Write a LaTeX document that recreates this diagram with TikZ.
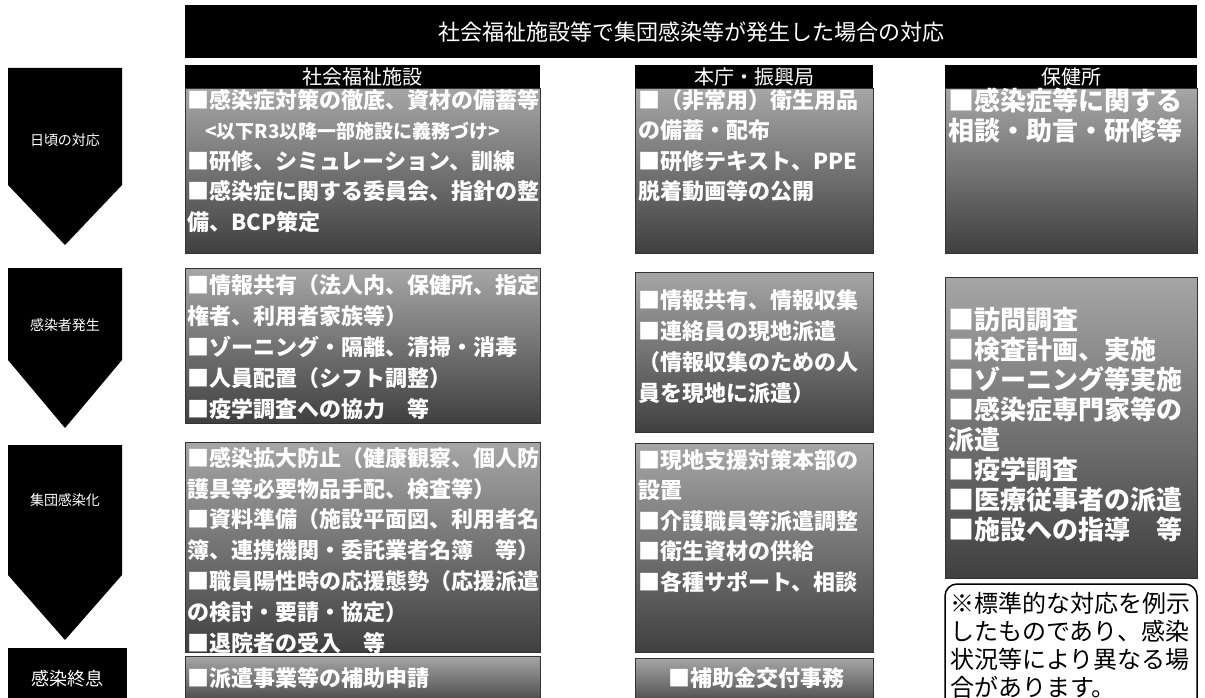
\documentclass[tikz,border=0pt]{standalone}
\usepackage{fontspec}
\setmainfont{Noto Sans CJK JP}
\tikzstyle{bar}=[fill=black,text=white,inner sep=0pt,anchor=north west]
\tikzstyle{panel}=[top color=black!35,bottom color=black!75,draw=black!80,line width=0.8pt,inner sep=0pt,anchor=north west]
\tikzstyle{items}=[text=white,font=\bfseries\fontsize{22}{30.5}\selectfont,align=left,anchor=north west,inner sep=0pt]
\tikzstyle{phase}=[fill=black]
\tikzstyle{phaselabel}=[text=white,font=\fontsize{14}{14}\selectfont,inner sep=0pt]

\begin{document}
\begin{tikzpicture}[x=1pt,y=-1pt]
\clip (0,0) rectangle (1205,698);
\fill[white] (0,0) rectangle (1205,698);

% title and column heads
\node (title) at (185,5) [bar,minimum width=1012,minimum height=53,font=\fontsize{22}{22}\selectfont] {社会福祉施設等で集団感染等が発生した場合の対応};
\node (h1) at (185,65) [bar,minimum width=355,minimum height=23,font=\fontsize{20}{20}\selectfont] {社会福祉施設};
\node (h2) at (635,65) [bar,minimum width=238,minimum height=23,font=\fontsize{20}{20}\selectfont] {本庁・振興局};
\node (h3) at (945,65) [bar,minimum width=252,minimum height=23,font=\fontsize{20}{20}\selectfont] {保健所};

% phases
\fill[phase] (8,68) -- (122,68) -- (122,185) -- (65,245) -- (8,185) -- cycle;
\node (f1) at (65,140) [phaselabel] {日頃の対応};
\fill[phase] (8,268) -- (122,268) -- (122,360) -- (65,428) -- (8,360) -- cycle;
\node (f2) at (65,325) [phaselabel] {感染者発生};
\fill[phase] (8,445) -- (122,445) -- (122,575) -- (65,640) -- (8,575) -- cycle;
\node (f3) at (65,500) [phaselabel] {集団感染化};
\node (f4) at (8,648) [bar,minimum width=119,minimum height=60,font=\fontsize{18}{18}\selectfont] {感染終息};

% panels
\node (p11) at (185,88) [panel,minimum width=355,minimum height=165] {};
\node (p21) at (635,88) [panel,minimum width=238,minimum height=165] {};
\node (p31) at (945,88) [panel,minimum width=252,minimum height=165] {};
\node (p12) at (185,268) [panel,minimum width=355,minimum height=155] {};
\node (p22) at (635,272) [panel,minimum width=238,minimum height=160] {};
\node (p32) at (945,277) [panel,minimum width=252,minimum height=301] {};
\node (p13) at (185,442) [panel,minimum width=355,minimum height=210] {};
\node (p23) at (635,443) [panel,minimum width=238,minimum height=209] {};
\node (p14) at (185,656) [panel,minimum width=355,minimum height=50] {};
\node (p24) at (635,658) [panel,minimum width=238,minimum height=50] {};

% panel texts
\node (t11) at (187,89) [items] {■感染症対策の徹底、資材の備蓄等\\
\hspace{18pt}{\fontsize{19}{30.5}\selectfont <以下R3以降一部施設に義務づけ>}\\
■研修、シミュレーション、訓練\\
■感染症に関する委員会、指針の整\\
備、BCP策定};
\node (t21) at (638,89) [items] {■（非常用）衛生用品\\
の備蓄・配布\\
■研修テキスト、PPE\\
脱着動画等の公開};
\node (t31) at (948,88) [items,font=\bfseries\fontsize{26}{30}\selectfont] {■感染症等に関する\\
相談・助言・研修等};
\node (t12) at (187,274) [items,font=\bfseries\fontsize{22}{31}\selectfont] {■情報共有（法人内、保健所、指定\\
権者、利用者家族等）\\
■ゾーニング・隔離、清掃・消毒\\
■人員配置（シフト調整）\\
■疫学調査への協力　等};
\node (t22) at (638,289) [items,font=\bfseries\fontsize{22}{31}\selectfont] {■情報共有、情報収集\\
■連絡員の現地派遣\\
（情報収集のための人\\
員を現地に派遣）};
\node (t32) at (948,307) [items,font=\bfseries\fontsize{26}{30}\selectfont] {■訪問調査\\
■検査計画、実施\\
■ゾーニング等実施\\
■感染症専門家等の\\
派遣\\
■疫学調査\\
■医療従事者の派遣\\
■施設への指導　等};
\node (t13) at (187,447) [items,font=\bfseries\fontsize{22}{30.8}\selectfont] {■感染拡大防止（健康観察、個人防\\
護具等必要物品手配、検査等）\\
■資料準備（施設平面図、利用者名\\
簿、連携機関・委託業者名簿　等）\\
■職員陽性時の応援態勢（応援派遣\\
の検討・要請・協定）\\
■退院者の受入　等};
\node (t23) at (638,449) [items] {■現地支援対策本部の\\
設置\\
■介護職員等派遣調整\\
■衛生資材の供給\\
■各種サポート、相談};
\node (t14) at (187,667) [items] {■派遣事業等の補助申請};
\node (t24) at (756,678) [items,anchor=center] {■補助金交付事務};

% note
\draw[black,line width=1.5pt,fill=white,rounded corners=12] (945,584) rectangle (1197,715);
\node (note) at (950,592) [anchor=north west,inner sep=0pt,align=left,font=\fontsize{24}{28}\selectfont] {※標準的な対応を例示\\
したものであり、感染\\
状況等により異なる場\\
合があります。};
\end{tikzpicture}
\end{document}
